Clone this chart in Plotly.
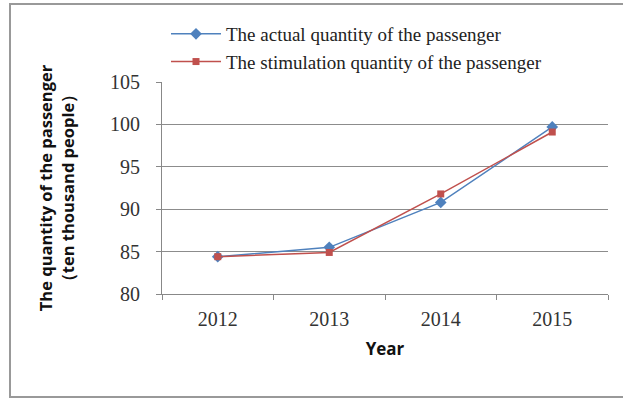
import plotly.graph_objects as go

years = ["2012", "2013", "2014", "2015"]
actual = [84.4, 85.5, 90.8, 99.7]
simulated = [84.4, 84.9, 91.8, 99.1]
series_names = ["The actual quantity of the passenger", "The stimulation quantity of the passenger"]
y_ticks = [80, 85, 90, 95, 100, 105]

W, H = 623, 400
ML, MR, MT, MB = 162, 15, 82, 106
pw, ph = W - ML - MR, H - MT - MB

def px_x(x):
    return (x - ML) / pw

def px_y(y):
    return (H - MB - y) / ph

fig = go.Figure()
fig.add_trace(go.Scatter(x=years, y=actual, name=series_names[0], mode="lines+markers",
                         line=dict(color="#4F81BD", width=1.5),
                         marker=dict(symbol="diamond", size=9, color="#4F81BD")))
fig.add_trace(go.Scatter(x=years, y=simulated, name=series_names[1], mode="lines+markers",
                         line=dict(color="#C0504D", width=1.5),
                         marker=dict(symbol="square", size=7, color="#C0504D")))

serif = "Liberation Serif, Times New Roman, serif"
fig.update_layout(
    width=W, height=H,
    margin=dict(l=ML, r=MR, t=MT, b=MB),
    paper_bgcolor="white", plot_bgcolor="white",
    showlegend=True,
    legend=dict(x=px_x(166), y=px_y(15), xanchor="left", yanchor="top",
                font=dict(family=serif, size=19, color="#222"),
                bgcolor="rgba(0,0,0,0)", tracegroupgap=0, itemwidth=50),
    xaxis=dict(type="category", range=[-0.5, 3.5], tickson="boundaries",
               ticks="outside", ticklen=5, tickcolor="#888", showline=True,
               linecolor="#888", linewidth=1, showgrid=False,
               tickfont=dict(family=serif, size=20, color="#333"),
               ticklabelstandoff=7,
               title=dict(text="<b>Year</b>", font=dict(family="Open Sans, DejaVu Sans, sans-serif", size=17, color="#111"),
                          standoff=14)),
    yaxis=dict(range=[80, 105], tickvals=y_ticks, ticks="outside", ticklen=5,
               tickcolor="#888", showline=True, linecolor="#888", linewidth=1,
               showgrid=True, gridcolor="#8c8c8c", gridwidth=1, zeroline=False,
               tickfont=dict(family=serif, size=20, color="#333"),
               ticklabelstandoff=12,
               title=dict(text="<b>The quantity of the passenger</b><br><b>（ten thousand people）</b>",
                          font=dict(family="Open Sans, DejaVu Sans, sans-serif", size=16.5, color="#111"),
                          standoff=31)),
    shapes=[dict(type="rect", xref="paper", yref="paper",
                 x0=px_x(10), x1=px_x(640), y0=px_y(397), y1=px_y(4),
                 line=dict(color="#999", width=2), fillcolor="rgba(0,0,0,0)", layer="below")],
)

fig.write_html("out.html")
